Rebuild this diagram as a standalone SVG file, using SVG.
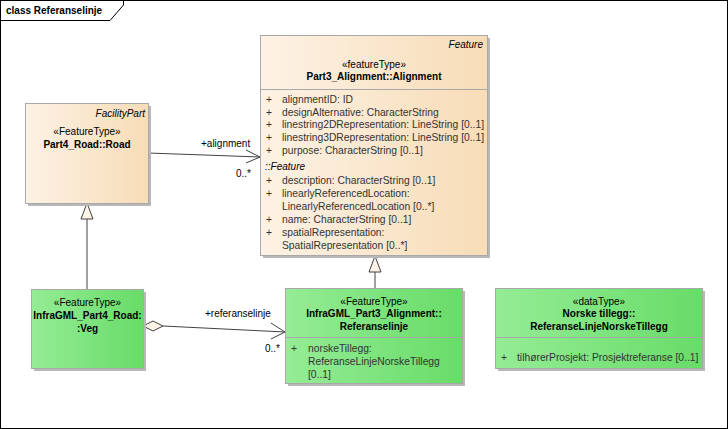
<svg xmlns="http://www.w3.org/2000/svg" width="728" height="429" viewBox="0 0 728 429">
<style>
text{font-family:"Liberation Sans",Arial,sans-serif;font-size:10px;fill:#000}
.b{font-weight:bold}
.i{font-style:italic}
.c{text-anchor:middle}
.e{text-anchor:end}
.a{fill:#333;font-size:10.3px}
.box{stroke:#a8a8a8;stroke-width:1}
.sh{fill:#b8b8b8}
.sep{stroke:#a8a8a8;stroke-width:1}
.ln{stroke:#404040;stroke-width:1;fill:none}
</style>
<defs>
<linearGradient id="go" x1="0" y1="0" x2="1" y2="0">
<stop offset="0" stop-color="#fdf2e5"/>
<stop offset="1" stop-color="#f7dcb7"/>
</linearGradient>
<linearGradient id="gg" x1="0" y1="0" x2="1" y2="0">
<stop offset="0" stop-color="#95ec95"/>
<stop offset="1" stop-color="#68dc68"/>
</linearGradient>
</defs>
<rect x="0" y="0" width="728" height="429" fill="#fff"/>
<g id="frame">
<rect x="0.5" y="0.5" width="727" height="428" fill="none" stroke="#000"/>
<path d="M0.5 20.5 H110 L123.5 5 V0.5" fill="none" stroke="#000"/>
<text x="6" y="14" class="b">class Referanselinje</text>
</g>
<g id="connectors">
<line class="ln" x1="148" y1="153" x2="260" y2="157"/>
<polyline class="ln" points="246,150 260,157 246,163"/>
<text x="201" y="147">+alignment</text>
<text x="236" y="177">0..*</text>
<line class="ln" x1="87" y1="219" x2="87" y2="289"/>
<polygon points="87,203 81,219 93,219" fill="#fdf3e6" stroke="#404040"/>
<line class="ln" x1="375" y1="272" x2="375" y2="288"/>
<polygon points="375,256 369,272 381,272" fill="#fdf3e6" stroke="#404040"/>
<line class="ln" x1="163" y1="326" x2="285" y2="332"/>
<polyline class="ln" points="271,323 285,332 271,339"/>
<polygon points="143,326 153,321 163,326 153,331" fill="#fdf3e6" stroke="#404040"/>
<text x="205" y="317">+referanselinje</text>
<text x="265" y="352">0..*</text>
</g>
<g id="alignment">
<rect class="sh" x="263" y="38" width="227" height="220"/>
<rect class="box" x="260.5" y="35.5" width="227" height="220" fill="url(#go)"/>
<line class="sep" x1="260.5" y1="89.5" x2="487.5" y2="89.5"/>
<text x="483" y="48" class="i e">Feature</text>
<text x="374" y="68" class="c">«featureType»</text>
<text x="374" y="80" class="b c">Part3_Alignment::Alignment</text>
<text x="266" y="103" class="a">+</text><text x="282" y="103" class="a">alignmentID: ID</text>
<text x="266" y="115.5" class="a">+</text><text x="282" y="115.5" class="a">designAlternative: CharacterString</text>
<text x="266" y="128" class="a">+</text><text x="282" y="128" class="a">linestring2DRepresentation: LineString [0..1]</text>
<text x="266" y="141" class="a">+</text><text x="282" y="141" class="a">linestring3DRepresentation: LineString [0..1]</text>
<text x="266" y="154" class="a">+</text><text x="282" y="154" class="a">purpose: CharacterString [0..1]</text>
<text x="265" y="170" class="i">::Feature</text>
<text x="266" y="184" class="a">+</text><text x="282" y="184" class="a">description: CharacterString [0..1]</text>
<text x="266" y="197" class="a">+</text><text x="282" y="197" class="a">linearlyReferencedLocation:</text>
<text x="282" y="210" class="a">LinearlyReferencedLocation [0..*]</text>
<text x="266" y="223" class="a">+</text><text x="282" y="223" class="a">name: CharacterString [0..1]</text>
<text x="266" y="236" class="a">+</text><text x="282" y="236" class="a">spatialRepresentation:</text>
<text x="282" y="249" class="a">SpatialRepresentation [0..*]</text>
</g>
<g id="road">
<rect class="sh" x="28" y="106" width="123" height="100"/>
<rect class="box" x="25.5" y="103.5" width="123" height="100" fill="url(#go)"/>
<text x="145" y="117" class="i e">FacilityPart</text>
<text x="87" y="135" class="c">«FeatureType»</text>
<text x="87" y="148" class="b c">Part4_Road::Road</text>
</g>
<g id="veg">
<rect class="sh" x="34" y="292" width="112" height="79"/>
<rect class="box" x="31.5" y="289.5" width="112" height="79" fill="url(#gg)"/>
<text x="87.5" y="306" class="c">«FeatureType»</text>
<text x="87.5" y="319" class="b c">InfraGML_Part4_Road:</text>
<text x="87.5" y="332" class="b c">:Veg</text>
</g>
<g id="referanselinje">
<rect class="sh" x="288" y="291" width="177" height="95"/>
<rect class="box" x="285.5" y="288.5" width="177" height="95" fill="url(#gg)"/>
<line class="sep" x1="285.5" y1="337.5" x2="462.5" y2="337.5"/>
<text x="374" y="305" class="c">«FeatureType»</text>
<text x="374" y="317" class="b c">InfraGML_Part3_Alignment::</text>
<text x="374" y="330" class="b c">Referanselinje</text>
<text x="291" y="352" class="a">+</text><text x="308" y="352" class="a">norskeTillegg:</text>
<text x="308" y="365" class="a">ReferanseLinjeNorskeTillegg</text>
<text x="308" y="378" class="a">[0..1]</text>
</g>
<g id="norsketillegg">
<rect class="sh" x="498" y="291" width="207" height="80"/>
<rect class="box" x="495.5" y="288.5" width="207" height="80" fill="url(#gg)"/>
<line class="sep" x1="495.5" y1="337.5" x2="702.5" y2="337.5"/>
<text x="599" y="305" class="c">«dataType»</text>
<text x="599" y="317" class="b c">Norske tillegg::</text>
<text x="599" y="330" class="b c">ReferanseLinjeNorskeTillegg</text>
<text x="501" y="361" class="a">+</text><text x="517" y="361" class="a">tilhørerProsjekt: Prosjektreferanse [0..1]</text>
</g>
</svg>
